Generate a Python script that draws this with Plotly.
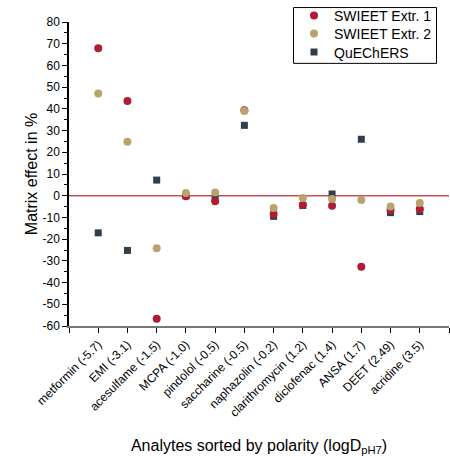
import plotly.graph_objects as go

categories = ["metformin (-5.7)", "EMI (-3.1)", "acesulfame (-1.5)", "MCPA (-1.0)",
              "pindolol (-0.5)", "saccharine (-0.5)", "naphazolin (-0.2)",
              "clarithromycin (1.2)", "diclofenac (1.4)", "ANSA (1.7)",
              "DEET (2.49)", "acridine (3.5)"]
swieet1 = [67.9, 43.6, -56.7, -0.3, -2.6, 39.4, -8.4, -4.3, -4.6, -32.7, -6.6, -6.1]
swieet2 = [47.1, 24.9, -24.2, 1.2, 1.5, 39.0, -5.7, -1.1, -1.5, -2.0, -5.0, -3.4]
quechers = [-17.1, -25.2, 7.2, 0.0, -1.2, 32.4, -9.5, -4.5, 0.8, 26.0, -7.8, -7.3]
y_ticks = list(range(-60, 81, 10))

FONT = "Liberation Sans, Arial, sans-serif"
xs = list(range(len(categories)))
x_range = [-1, len(categories)]

PLOT_L, PLOT_R, PLOT_T, PLOT_B = 69, 449, 21, 326
def px(x):
    return (x - PLOT_L) / (PLOT_R - PLOT_L)
def py(y):
    return (PLOT_B - y) / (PLOT_B - PLOT_T)

fig = go.Figure()
fig.add_trace(go.Scatter(x=xs, y=quechers, mode="markers", name="QuEChERS", legend="legend3",
                         marker=dict(symbol="square", size=7, color="#323f4b")))
fig.add_trace(go.Scatter(x=xs, y=swieet1, mode="markers", name="SWIEET Extr. 1", legend="legend",
                         marker=dict(symbol="circle", size=8, color="#b01c35")))
fig.add_trace(go.Scatter(x=xs, y=swieet2, mode="markers", name="SWIEET Extr. 2", legend="legend2",
                         marker=dict(symbol="circle", size=8, color="#b9a36a")))

fig.add_shape(type="line", xref="paper", yref="y", x0=0, x1=1, y0=0, y1=0,
              line=dict(color="#c4505c", width=1.5), layer="below")
# legend frame
fig.add_shape(type="rect", xref="paper", yref="paper",
              x0=px(293.5), x1=px(436.5), y0=py(62.5), y1=py(6.5),
              line=dict(color="black", width=1), fillcolor="rgba(0,0,0,0)")

leg_common = dict(xanchor="left", yanchor="middle", borderwidth=0,
                  bgcolor="rgba(0,0,0,0)", font=dict(size=14), itemwidth=30)
fig.update_layout(
    width=450, height=456,
    margin=dict(l=PLOT_L, r=450 - PLOT_R, t=PLOT_T, b=456 - PLOT_B),
    paper_bgcolor="white", plot_bgcolor="white",
    font=dict(family=FONT, size=12, color="black"),
    showlegend=True,
    legend=dict(x=px(294), y=py(15.5), **leg_common),
    legend2=dict(x=px(294), y=py(34), **leg_common),
    legend3=dict(x=px(294), y=py(52.5), **leg_common),
)
fig.update_xaxes(
    range=x_range, tickmode="array",
    tickvals=xs, ticktext=categories,
    tickangle=-45, tickfont=dict(size=12),
    ticks="outside", ticklen=5, tickcolor="black",
    minor=dict(tickmode="array", tickvals=x_range, ticks="outside",
               ticklen=5, tickcolor="black"),
    showline=True, linecolor="#777777", linewidth=1.5,
    showgrid=False, zeroline=False,
    title=dict(text="Analytes sorted by polarity (logD<sub>pH7</sub>)",
               font=dict(size=16), standoff=21),
)
fig.update_yaxes(
    range=[-60, 80], tickmode="array", tickvals=y_ticks,
    ticktext=[str(v) for v in y_ticks], tickfont=dict(size=12),
    ticks="outside", ticklen=5, tickcolor="black",
    minor=dict(ticks="outside", ticklen=3, dtick=5, tickcolor="black"),
    showline=True, linecolor="black", linewidth=1.5,
    showgrid=False, zeroline=False,
    title=dict(text="Matrix effect in %", font=dict(size=16), standoff=1),
)
fig.write_html("out.html")
